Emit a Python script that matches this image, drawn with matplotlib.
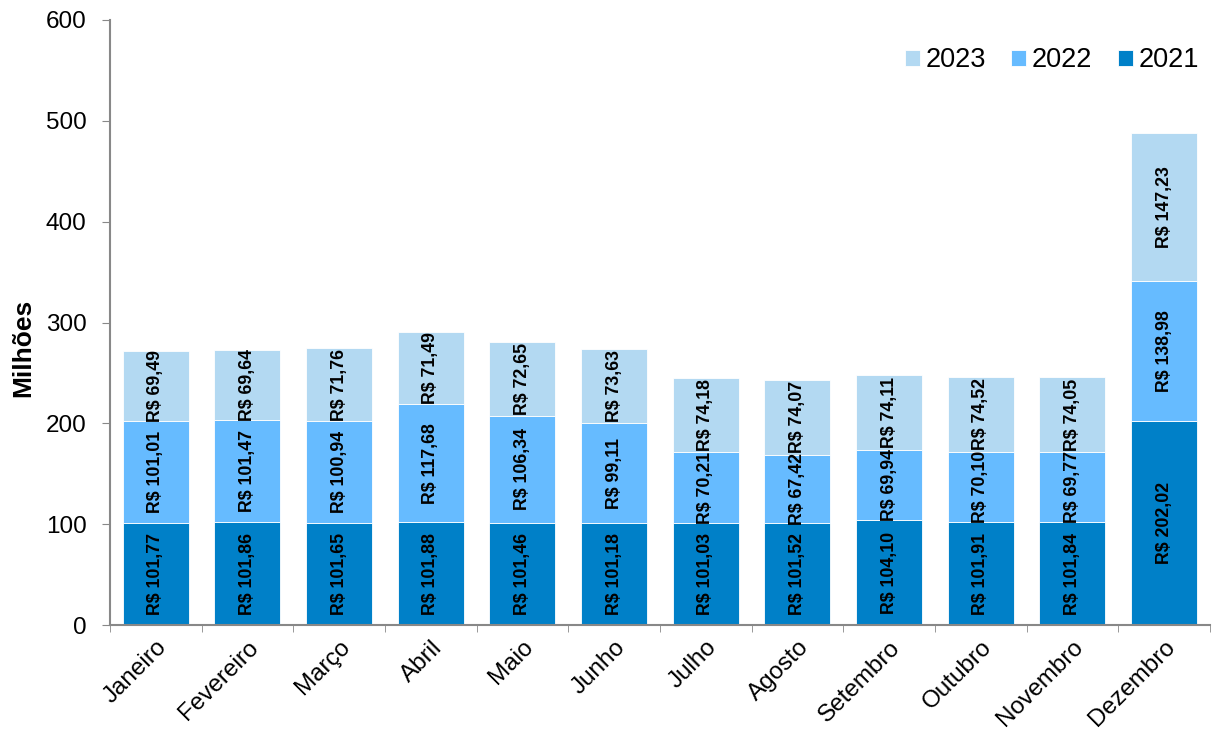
import matplotlib.pyplot as plt
import numpy as np

plt.rcParams['font.family'] = ['Liberation Sans', 'DejaVu Sans']

meses = ['Janeiro', 'Fevereiro', 'Março', 'Abril', 'Maio', 'Junho', 'Julho',
         'Agosto', 'Setembro', 'Outubro', 'Novembro', 'Dezembro']
v2021 = [101.77, 101.86, 101.65, 101.88, 101.46, 101.18, 101.03, 101.52, 104.10, 101.91, 101.84, 202.02]
v2022 = [101.01, 101.47, 100.94, 117.68, 106.34, 99.11, 70.21, 67.42, 69.94, 70.10, 69.77, 138.98]
v2023 = [69.49, 69.64, 71.76, 71.49, 72.65, 73.63, 74.18, 74.07, 74.11, 74.52, 74.05, 147.23]

cores = {'2021': '#0080C8', '2022': '#66BBFF', '2023': '#B3D9F2'}

fig = plt.figure(figsize=(12.18, 7.39), dpi=100)
ax = fig.add_axes([0.0903, 0.154, 0.903, 0.819])

x = np.arange(len(meses))
w = 0.72
base = np.zeros(len(meses))
barras = {}
for ano, vals in [('2021', v2021), ('2022', v2022), ('2023', v2023)]:
    vals = np.array(vals)
    barras[ano] = ax.bar(x, vals, w, bottom=base, color=cores[ano], edgecolor='white', linewidth=0.6, label=ano)
    for xi, b, v in zip(x, base, vals):
        txt = 'R$ ' + f'{v:.2f}'.replace('.', ',')
        ax.text(xi, b + v / 2, txt, rotation=90, ha='center', va='center',
                fontsize=12.8, fontweight='bold', color='black')
    base = base + vals

ax.set_xlim(-0.5, len(meses) - 0.5)
ax.set_ylim(0, 600)
ax.set_yticks(range(0, 601, 100))
ax.tick_params(axis='y', labelsize=17.5, direction='out', length=5.8, color='#888888', pad=11)

ax.set_xticks(x)
ax.set_xticklabels(meses, rotation=45, ha='right', rotation_mode='anchor', fontsize=17.5)
ax.tick_params(axis='x', which='major', length=0, pad=8)
ax.set_xticks(np.arange(-0.5, len(meses), 1.0), minor=True)
ax.tick_params(axis='x', which='minor', length=5, color='#888888', direction='out')

for s in ['top', 'right']:
    ax.spines[s].set_visible(False)
for s in ['left', 'bottom']:
    ax.spines[s].set_color('#888888')
    ax.spines[s].set_linewidth(1.5)

ax.set_ylabel('Milhões', fontsize=19, fontweight='bold')
ax.yaxis.set_label_coords(-0.068, 0.458)

ax.legend([barras['2023'], barras['2022'], barras['2021']], ['2023', '2022', '2021'],
          loc='upper right', ncol=3, frameon=False, fontsize=19.5,
          handlelength=0.55, handleheight=0.55, handletextpad=0.2, columnspacing=0.95,
          bbox_to_anchor=(1.012, 0.995))

fig.savefig('out.png', dpi=100)
